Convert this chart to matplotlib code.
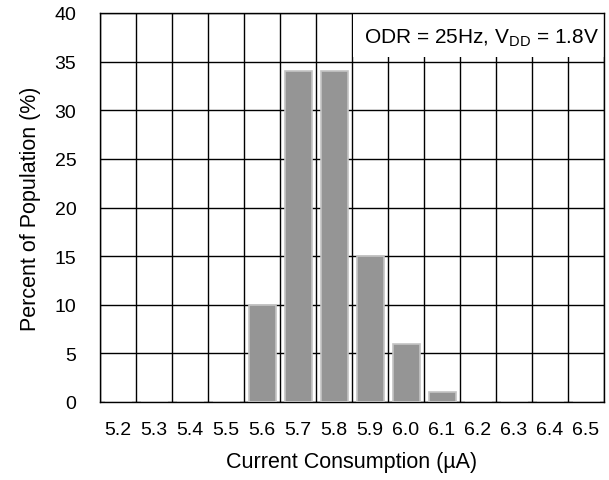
import matplotlib.pyplot as plt
import numpy as np

plt.rcParams['font.family'] = ['Liberation Sans', 'DejaVu Sans']
plt.rcParams['mathtext.fontset'] = 'custom'
plt.rcParams['mathtext.rm'] = 'Liberation Sans'

# Current consumption bins and population share
currents = ["5.2", "5.3", "5.4", "5.5", "5.6", "5.7", "5.8",
            "5.9", "6.0", "6.1", "6.2", "6.3", "6.4", "6.5"]
percent = [0, 0, 0, 0, 10, 34, 34, 15, 6, 1, 0, 0, 0, 0]

fig = plt.figure(figsize=(6.09, 4.81), dpi=100)
ax = fig.add_axes([100 / 609, 78 / 481, 504 / 609, 389 / 481])

x = np.arange(len(currents))
ax.bar(x, percent, width=0.75, color="#959595", edgecolor="#c4c4c4",
       linewidth=1.2, zorder=3)

ax.set_xlim(-0.5, len(currents) - 0.5)
ax.set_ylim(0, 40)
ax.set_yticks(np.arange(0, 41, 5))
ax.set_xticks(x)
ax.set_xticklabels(currents)
ax.set_xticks(np.arange(-0.5, len(currents)), minor=True)
ax.tick_params(axis="both", which="both", length=0, labelsize=14)
ax.tick_params(axis="x", pad=14)
ax.tick_params(axis="y", pad=17)

# grid: horizontal on major y ticks, vertical on bin edges
ax.yaxis.grid(True, color="black", linewidth=1.0, zorder=1)
ax.xaxis.grid(True, which="minor", color="black", linewidth=1.0, zorder=1)
ax.set_axisbelow(True)
for s in ax.spines.values():
    s.set_linewidth(1.0)

# white panel behind the condition label
ax.add_patch(plt.Rectangle((6.53, 35.5), 6.97, 4.5, facecolor="white",
                           edgecolor="none", zorder=2))
ax.text(13.35, 37.5, "ODR = 25Hz, V$_{\\mathrm{DD}}$ = 1.8V", ha="right",
        va="center", fontsize=15, zorder=4)

ax.set_xlabel("Current Consumption (µA)", fontsize=15.5, labelpad=9)
ax.set_ylabel("Percent of Population (%)", fontsize=15.5, labelpad=10)

fig.savefig("out.png", dpi=100)
